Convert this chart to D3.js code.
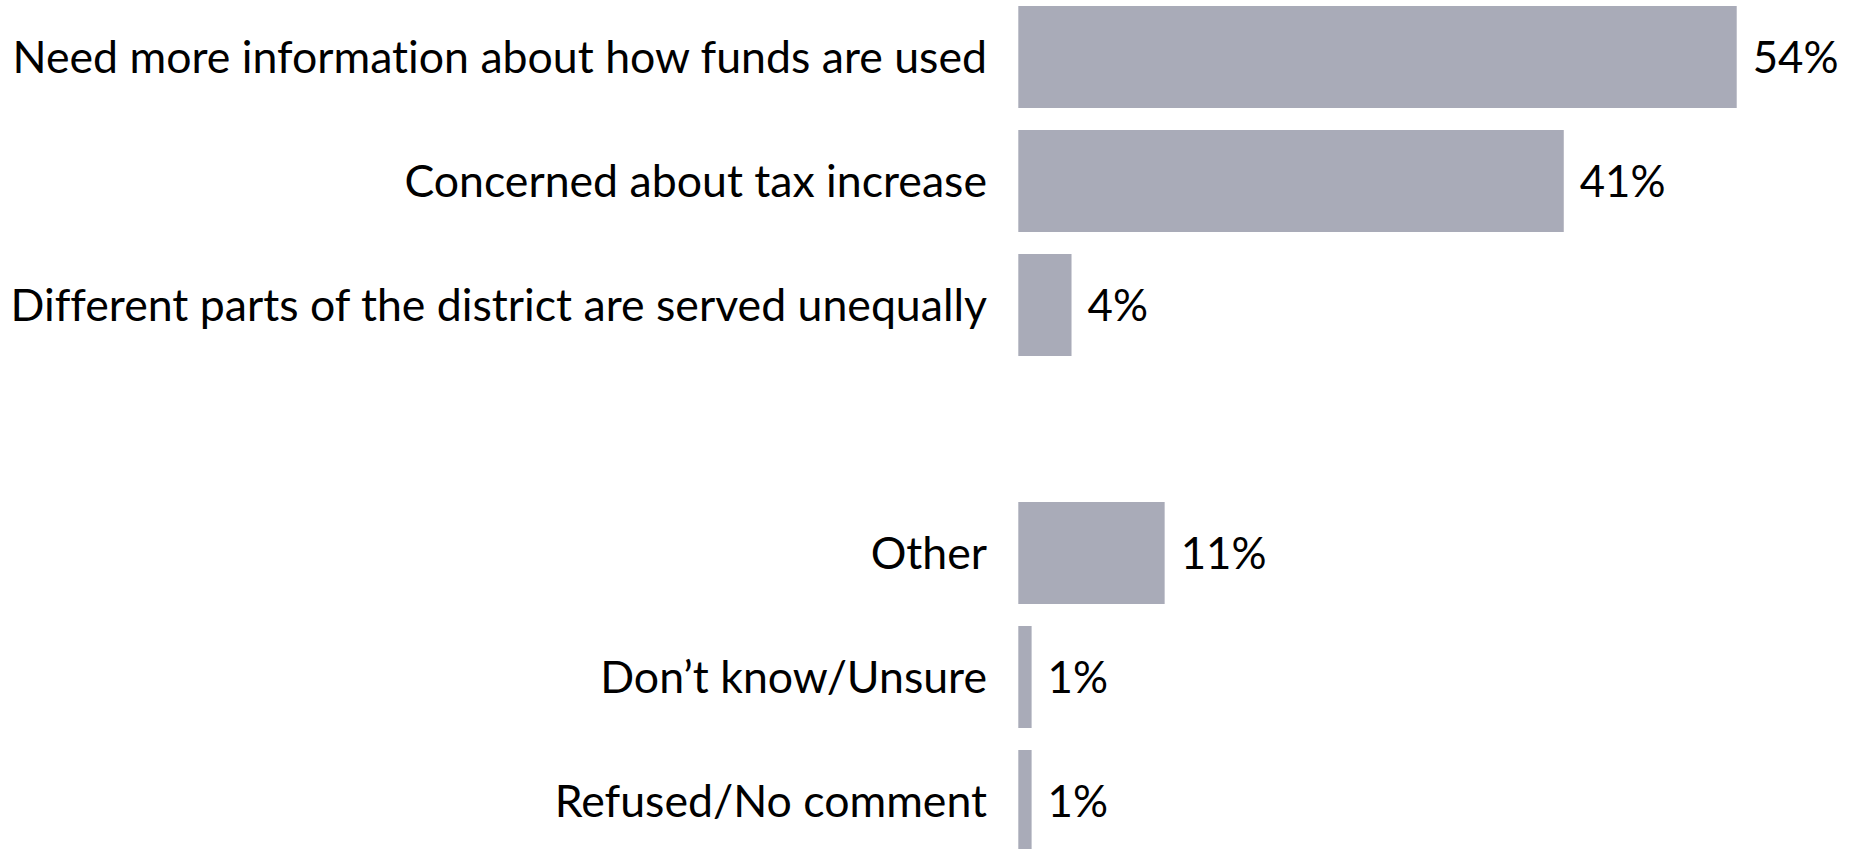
<!DOCTYPE html>
<html>
<head>
<meta charset="utf-8">
<script src="https://cdn.jsdelivr.net/npm/d3@7"></script>
<style>
html,body{margin:0;padding:0;background:#fff;overflow:hidden;}
svg{display:block;}
text{font-variant-ligatures:none;font-feature-settings:"liga" 0;}
</style>
</head>
<body>
<svg id="chart" width="1851" height="849"></svg>
<script>
const categories = [
  "Need more information about how funds are used",
  "Concerned about tax increase",
  "Different parts of the district are served unequally",
  "",
  "Other",
  "Don\u2019t know/Unsure",
  "Refused/No comment"
];
const values = [54, 41, 4, null, 11, 1, 1];
const valueLabels = ["54%", "41%", "4%", "", "11%", "1%", "1%"];

const W = 1851, H = 849;
const svg = d3.select("#chart");
const fontFamily = "Lato, 'Open Sans', sans-serif";

const x0 = 1018.3;
const x = d3.scaleLinear().domain([0, 100]).range([x0, x0 + 1330.4]);
const step = 124, pIn = 22 / 124;
const keys = categories.map((c, i) => i);
const y = d3.scaleBand().domain(keys)
  .range([6 - step * pIn / 2, 6 - step * pIn / 2 + step * categories.length])
  .paddingInner(pIn).paddingOuter(pIn / 2);

// fit font size so longest label width matches the reference
const probe = svg.append("text").attr("font-family", fontFamily).attr("font-size", 40)
  .text(categories[0]);
const w40 = probe.node().getComputedTextLength();
probe.remove();
const fs = 40 * 975 / w40;

const rows = keys.filter(i => values[i] !== null);

svg.append("g").selectAll("rect").data(rows).join("rect")
  .attr("x", x(0))
  .attr("y", i => y(i))
  .attr("width", i => x(values[i]) - x(0))
  .attr("height", y.bandwidth())
  .attr("fill", "#A9ABB8");

svg.append("g").selectAll("text").data(rows).join("text")
  .attr("x", 987)
  .attr("y", i => y(i) + y.bandwidth() / 2)
  .attr("dy", fs * 0.35)
  .attr("text-anchor", "end")
  .attr("font-family", fontFamily)
  .attr("font-size", fs)
  .attr("fill", "#000")
  .text(i => categories[i]);

svg.append("g").selectAll("text").data(rows).join("text")
  .attr("x", i => x(values[i]) + 16)
  .attr("y", i => y(i) + y.bandwidth() / 2)
  .attr("dy", fs * 0.35)
  .attr("text-anchor", "start")
  .attr("font-family", fontFamily)
  .attr("font-size", fs * 0.98)
  .attr("fill", "#000")
  .text(i => valueLabels[i]);
</script>
</body>
</html>
